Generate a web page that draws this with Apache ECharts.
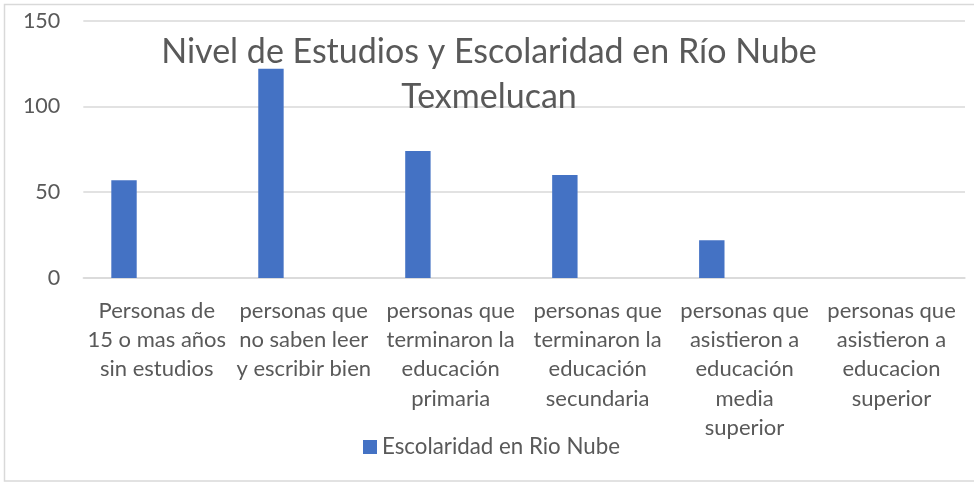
<!DOCTYPE html>
<html>
<head>
<meta charset="utf-8">
<script src="https://cdn.jsdelivr.net/npm/echarts@6/dist/echarts.min.js"></script>
<style>
html,body{margin:0;padding:0;background:#fff;}
#chart{width:974px;height:483px;}
</style>
</head>
<body>
<div id="chart"></div>
<script>
var titleText = "Nivel de Estudios y Escolaridad en Río Nube\nTexmelucan";
var seriesName = "Escolaridad en Rio Nube";
var categories = [
  "Personas de\n15 o mas años\nsin estudios",
  "personas que\nno saben leer\ny escribir bien",
  "personas que\nterminaron la\neducación\nprimaria",
  "personas que\nterminaron la\neducación\nsecundaria",
  "personas que\nasistieron a\neducación\nmedia\nsuperior",
  "personas que\nasistieron a\neducacion\nsuperior"
];
var values = [57, 122, 74, 60, 22, 0];
var emptyValues = [null, null, null, null, null, null];
var yTicks = [0, 50, 100, 150];

var FONT = "Lato, 'Open Sans', sans-serif";
var chart = echarts.init(document.getElementById('chart'), null, {renderer: 'canvas'});
chart.setOption({
  animation: false,
  backgroundColor: '#ffffff',
  textStyle: {fontFamily: FONT},
  graphic: [{
    type: 'rect',
    shape: {x: 4.5, y: 4.5, width: 975, height: 476.5},
    style: {fill: null, stroke: '#d9d9d9', lineWidth: 1.5},
    silent: true, z: -1
  }],
  title: {
    text: titleText,
    left: 484, top: 25, textAlign: 'center',
    textStyle: {fontFamily: FONT, fontSize: 34, fontWeight: 'normal', color: '#595959', lineHeight: 45}
  },
  legend: {
    data: [seriesName],
    left: 358, top: 431,
    itemWidth: 14, itemHeight: 14, itemGap: 9, icon: 'rect',
    textStyle: {fontFamily: FONT, fontSize: 22.3, color: '#595959'}
  },
  grid: {left: 83.3, right: 9, top: 20.7, bottom: 205, containLabel: false},
  xAxis: {
    type: 'category',
    data: categories,
    axisLine: {show: true, lineStyle: {color: '#d9d9d9', width: 1.5}},
    axisTick: {show: false},
    axisLabel: {interval: 0, margin: 18, fontFamily: FONT, fontSize: 22, lineHeight: 29.3, color: '#595959', align: 'center'}
  },
  yAxis: {
    type: 'value',
    min: yTicks[0], max: yTicks[yTicks.length - 1], interval: 50,
    axisLine: {show: false},
    axisTick: {show: false},
    splitLine: {lineStyle: {color: '#d9d9d9', width: 1.5}},
    axisLabel: {margin: 23, fontFamily: FONT, fontSize: 21.5, color: '#595959'}
  },
  series: [{
    name: seriesName,
    type: 'bar',
    data: values,
    barWidth: 25.4,
    barGap: '158%',
    itemStyle: {color: '#4472c4'}
  }, {
    name: 'empty',
    type: 'bar',
    data: emptyValues,
    barWidth: 25.4,
    itemStyle: {color: '#ed7d31'}
  }]
});
</script>
</body>
</html>
